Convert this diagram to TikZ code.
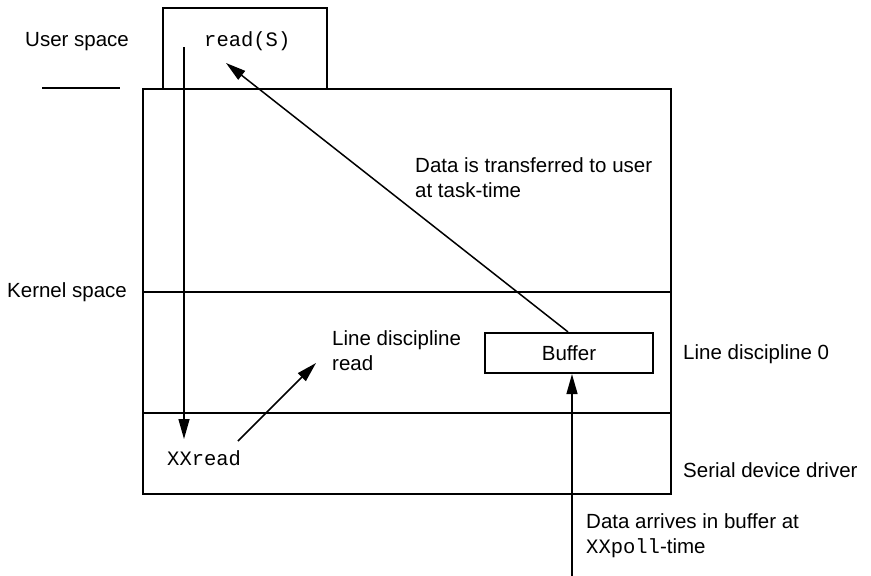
\documentclass[tikz,border=0pt]{standalone}
\usepackage{fontspec}
\setmainfont{Liberation Sans}
\setmonofont{Liberation Mono}
\usetikzlibrary{arrows.meta}
\begin{document}
\begin{tikzpicture}[x=1pt,y=-1pt,
  frame/.style={line width=2.2pt},
  flow/.style={line width=1.5pt,-{Triangle[length=20pt,width=11pt]}},
  lbl/.style={inner sep=0pt,anchor=base west,font=\fontsize{20.5}{25}\selectfont,align=left},
  code/.style={inner sep=0pt,anchor=base west,font=\fontsize{20.5}{25}\selectfont\ttfamily}]
\useasboundingbox (0,0) rectangle (871,576);

% kernel frame and its layers
\draw[frame] (143,89) rectangle (671,494);
\draw[frame] (143,292) -- (671,292);
\draw[frame] (143,413) -- (671,413);
% user-space box sitting on the kernel frame
\draw[frame] (163,89) -- (163,8) -- (327,8) -- (327,89);
% user/kernel boundary mark
\draw[line width=1.4pt] (42,88) -- (120,88);

% labels (multi-line labels are placed by their last baseline)
\node[lbl] (userspace) at (25,46) {User space};
\node[code] (readcall) at (204,46) {read(S)};
\node[lbl] (kernelspace) at (7,297) {Kernel space};
\node[lbl] (transfer) at (415,197) {Data is transferred to user\\at task-time};
\node[lbl] (ldread) at (332,370) {Line discipline\\read};
\node[lbl] (ldzero) at (683,359) {Line discipline 0};
\node[lbl] (serial) at (683,477) {Serial device driver};
\node[code] (xxread) at (167,465) {XXread};
\node[lbl] (arrive) at (586,553) {Data arrives in buffer at\\{\ttfamily XXpoll}-time};
\node[draw,frame,minimum width=168pt,minimum height=40pt,inner sep=0pt,
      font=\fontsize{20.5}{25}\selectfont] (buffer) at (569,353) {Buffer};

% connectors
\coordinate (usrsrc) at (184,47);
\coordinate (xxtip) at (184,439);
\coordinate (readtip) at (226,63);
\coordinate (ldsrc) at (238,441);
\coordinate (ldtip) at (316,363);
\coordinate (pollsrc) at (572,578);

\draw[flow] (usrsrc) -- (xxtip);
\draw[flow] ([xshift=-1pt]buffer.north) -- (readtip);
\draw[flow] (ldsrc) -- (ldtip);
\draw[flow] (pollsrc) -- ([xshift=3pt]buffer.south);
\end{tikzpicture}
\end{document}
